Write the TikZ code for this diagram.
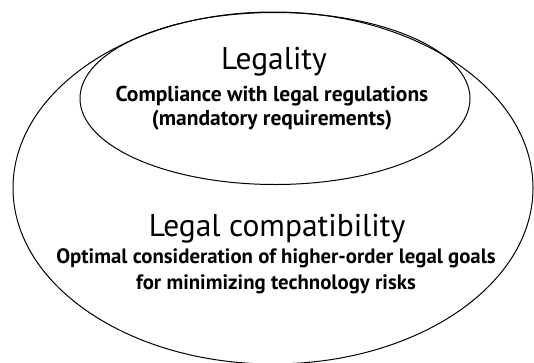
\documentclass[tikz,border=0pt]{standalone}
\usepackage{fontspec}
\setmainfont{PT Sans}
\usetikzlibrary{shapes.geometric}
\tikzset{zone/.style={draw,ellipse,line width=1pt,inner sep=0pt},
  heading/.style={font=\fontsize{31.5}{34}\selectfont,inner sep=0pt,anchor=base},
  detail/.style={font=\bfseries\fontsize{21.5}{23.5}\selectfont,align=center,inner sep=0pt,anchor=base}}

\begin{document}
\begin{tikzpicture}[x=1pt,y=-1pt]
  \useasboundingbox (0,0) rectangle (534,362);

  \node[zone,minimum width=520pt,minimum height=352pt] (outer) at (273,188) {};
  \node[zone,minimum width=390pt,minimum height=172pt] (inner) at (275,98.5) {};

  % base of a two-line node is the baseline of its last line
  \node[heading] (legality) at (274,69.5) {Legality};
  \node[detail] (legalitytext) at (272,125) {Compliance with legal regulations\\(mandatory requirements)};

  \node[heading] (compat) at (277,236) {Legal compatibility};
  \node[detail,font=\bfseries\fontsize{20.8}{23.5}\selectfont] (compattext) at (276,289)
    {Optimal consideration of higher-order legal goals\\[2.5pt]for minimizing technology risks};
\end{tikzpicture}
\end{document}
